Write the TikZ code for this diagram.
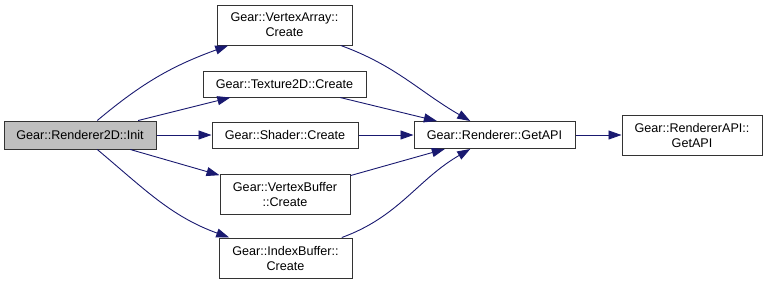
\documentclass[tikz,border=0pt]{standalone}
\usepackage{fontspec}
\setmainfont{Liberation Sans}
\usetikzlibrary{arrows.meta}
\definecolor{edgeblue}{HTML}{191970}
\definecolor{boxgray}{HTML}{BFBFBF}
\begin{document}
\begin{tikzpicture}[x=1pt,y=1pt,
  fn/.style={draw=black!80,fill=white,line width=1pt,inner sep=0pt,align=center,
    font=\fontsize{12.6}{15}\selectfont},
  call/.style={-{Triangle[length=13pt,width=9pt]},draw=edgeblue,line width=0.9pt}]
\useasboundingbox (0,0) rectangle (767,-285);
\node[fn,fill=boxgray,minimum width=152,minimum height=28] (init) at (80,-135) {Gear::Renderer2D::Init};
\node[fn,minimum width=135,minimum height=40] (va) at (284.5,-25) {Gear::VertexArray::\\Create};
\node[fn,minimum width=163,minimum height=26] (tex) at (284.5,-84) {Gear::Texture2D::Create};
\node[fn,minimum width=146,minimum height=26] (shader) at (285,-135) {Gear::Shader::Create};
\node[fn,minimum width=130,minimum height=40] (vb) at (285,-194) {Gear::VertexBuffer\\::Create};
\node[fn,minimum width=133,minimum height=40] (ib) at (285.5,-258) {Gear::IndexBuffer::\\Create};
\node[fn,minimum width=161,minimum height=27] (rget) at (494.5,-135) {Gear::Renderer::GetAPI};
\node[fn,minimum width=140,minimum height=40] (apiget) at (692,-135) {Gear::RendererAPI::\\GetAPI};
% calls from Init
\draw[call] (init) to[out=40,in=200] (va);
\draw[call] (init) -- (tex);
\draw[call] (init) -- (shader);
\draw[call] (init) -- (vb);
\draw[call] (init) to[out=-40,in=160] (ib);
% every Create asks the renderer
\draw[call] (va) to[out=-20,in=150] (rget);
\draw[call] (tex) -- (rget);
\draw[call] (shader) -- (rget);
\draw[call] (vb) -- (rget);
\draw[call] (ib) to[out=20,in=210] (rget);
\draw[call] (rget) -- (apiget);
\end{tikzpicture}
\end{document}
